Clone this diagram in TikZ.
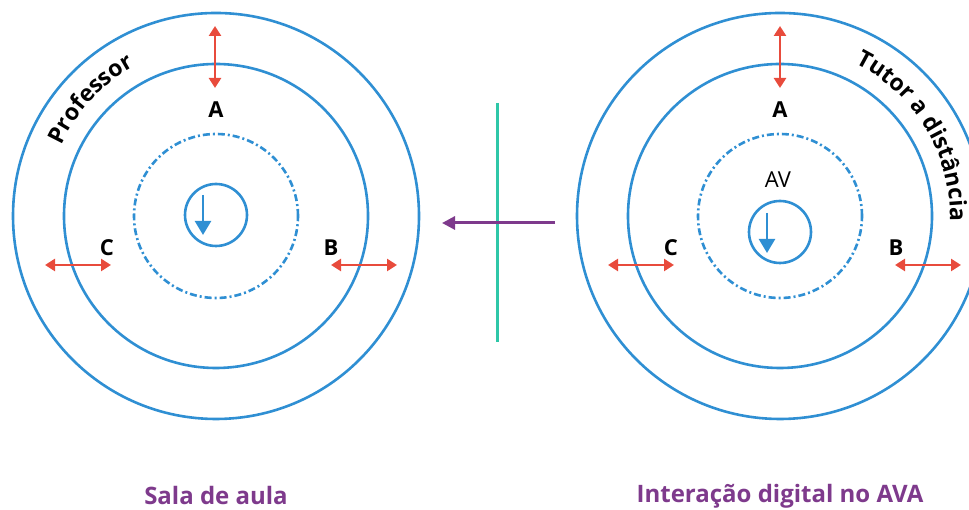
\documentclass[tikz,border=0pt]{standalone}
\usepackage{fontspec}
\setmainfont{Open Sans}
\usetikzlibrary{arrows.meta,decorations.text,calc}
\definecolor{cblue}{HTML}{2F8FD3}
\definecolor{cred}{HTML}{E84B3C}
\definecolor{cpurple}{HTML}{7E3A8C}
\definecolor{cteal}{HTML}{2EC7A8}
\begin{document}
\begin{tikzpicture}[x=1pt,y=1pt,
  ring/.style={draw=cblue,line width=2.6pt},
  dring/.style={draw=cblue,line width=2.6pt,dash pattern=on 7pt off 3pt on 2pt off 3pt},
  redarr/.style={draw=cred,line width=2.6pt,{Triangle[length=10pt,width=12pt]}-{Triangle[length=10pt,width=12pt]}},
  bluearr/.style={draw=cblue,line width=2.4pt,-{Triangle[length=14pt,width=16pt]}},
  lab/.style={font=\fontsize{22}{26}\selectfont\bfseries,inner sep=0pt},
  title/.style={font=\fontsize{24}{28}\selectfont\bfseries,text=cpurple,inner sep=0pt}]
\useasboundingbox (0,0) rectangle (969,510);
% left
\coordinate (cL) at (216,294);
\draw[ring] (cL) circle (203);
\draw[ring] (cL) circle (152);
\draw[dring] (cL) circle (82);
\coordinate (sL) at (216,295);
\draw[ring] (sL) circle (31);
\coordinate (sLt) at (203,315);
\coordinate (sLb) at (203,275);
\draw[bluearr] (sLt) -- (sLb);
\coordinate (aLt) at (215,484);
\coordinate (aLb) at (215,422);
\draw[redarr] (aLt) -- (aLb);
\node[lab] (AL) at (216,400) {A};
\coordinate (cLl) at (45,245);
\coordinate (cLr) at (111,245);
\draw[redarr] (cLl) -- (cLr);
\node[lab] (CL) at (107,262) {C};
\coordinate (bLl) at (331,245);
\coordinate (bLr) at (397,245);
\draw[redarr] (bLl) -- (bLr);
\node[lab] (BL) at (331,262) {B};
\path[decorate,decoration={text along path,text align=center,
  text={|\fontsize{23}{27}\selectfont\bfseries|Professor}}]
  ($(cL)+(160:170)$) arc (160:114:170);
\node[title] (tL) at (216,14) {Sala de aula};
% middle
\coordinate (vt) at (497,407);
\coordinate (vb) at (497,168);
\draw[cteal,line width=3pt] (vt) -- (vb);
\coordinate (pr) at (555,287);
\coordinate (pl) at (442,287);
\draw[cpurple,line width=3pt,-{Triangle[length=13pt,width=13pt]}] (pr) -- (pl);
% right
\coordinate (cR) at (780,294);
\draw[ring] (cR) circle (203);
\draw[ring] (cR) circle (152);
\draw[dring] (cR) circle (82);
\coordinate (sR) at (780,278);
\draw[ring] (sR) circle (31);
\coordinate (sRt) at (767,297);
\coordinate (sRb) at (767,257);
\draw[bluearr] (sRt) -- (sRb);
\node[font=\fontsize{22}{26}\selectfont,inner sep=0pt] (AV) at (778,330) {AV};
\coordinate (aRt) at (780,484);
\coordinate (aRb) at (780,422);
\draw[redarr] (aRt) -- (aRb);
\node[lab] (AR) at (780,400) {A};
\coordinate (cRl) at (608,245);
\coordinate (cRr) at (674,245);
\draw[redarr] (cRl) -- (cRr);
\node[lab] (CR) at (671,262) {C};
\coordinate (bRl) at (895,245);
\coordinate (bRr) at (961,245);
\draw[redarr] (bRl) -- (bRr);
\node[lab] (BR) at (896,262) {B};
\path[decorate,decoration={text along path,text align=center,
  text={|\fontsize{23}{27}\selectfont\bfseries|Tutor a distância}}]
  ($(cR)+(70:170)$) arc (70:-8:170);
\node[title] (tR) at (780,14) {Interação digital no AVA};
\end{tikzpicture}
\end{document}
